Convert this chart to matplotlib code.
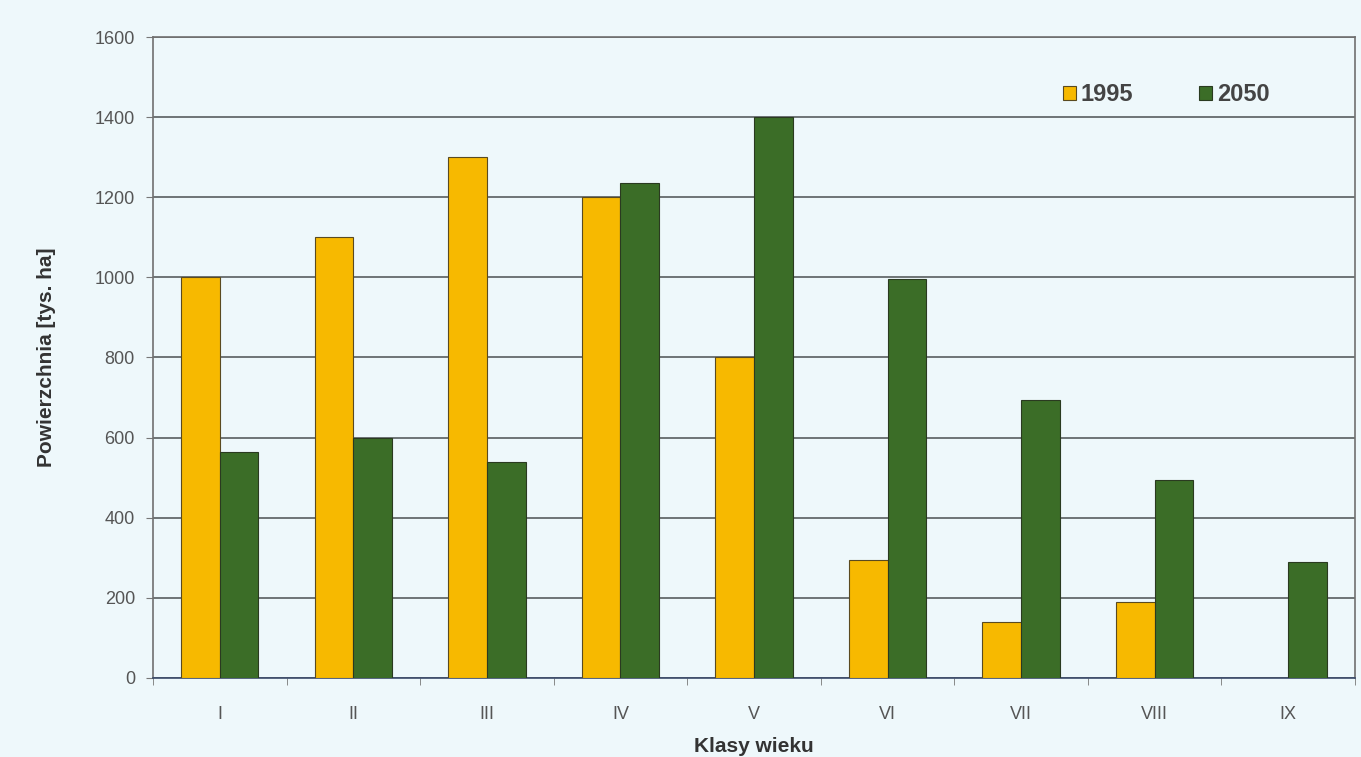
import matplotlib.pyplot as plt
import numpy as np

plt.rcParams['font.family'] = ['Liberation Sans', 'DejaVu Sans']

# age classes and area [thousand ha]
klasy = ['I', 'II', 'III', 'IV', 'V', 'VI', 'VII', 'VIII', 'IX']
y1995 = [1000, 1100, 1300, 1200, 800, 295, 140, 190, 0]
y2050 = [565, 600, 540, 1235, 1400, 995, 695, 495, 290]

bg = '#eef8fb'
c1995 = '#f7b900'
c2050 = '#3b6d27'

fig = plt.figure(figsize=(13.61, 7.57), dpi=100, facecolor=bg)
ax = fig.add_axes([0.1124, 0.1044, 0.8832, 0.8467], facecolor=bg)

x = np.arange(len(klasy))
w = 0.29
ax.bar(x - w / 2, y1995, w, color=c1995, edgecolor='#5a4a20', linewidth=0.8,
       label='1995', zorder=3)
ax.bar(x + w / 2, y2050, w, color=c2050, edgecolor='#2a3a20', linewidth=0.8,
       label='2050', zorder=3)

ax.set_xlim(-0.5, len(klasy) - 0.5)
ax.set_ylim(0, 1600)
ax.set_yticks(range(0, 1601, 200))
ax.yaxis.grid(True, color='#6e7476', linewidth=1.4, zorder=0)

# category labels centred, ticks between categories
ax.set_xticks(x)
ax.set_xticklabels(klasy)
ax.set_xticks(np.arange(-0.5, len(klasy)), minor=True)
ax.tick_params(axis='x', which='major', length=0, pad=20, labelsize=13,
               labelcolor='#555555')
ax.tick_params(axis='x', which='minor', length=5, color='#777777')
ax.tick_params(axis='y', length=5, color='#777777', labelsize=13,
               labelcolor='#555555', pad=8)

for s in ['top', 'right', 'left', 'bottom']:
    ax.spines[s].set_color('#707070')
    ax.spines[s].set_linewidth(1.2)
ax.spines['bottom'].set_color('#3a4a6a')

ax.set_ylabel('Powierzchnia [tys. ha]', fontsize=15, fontweight='bold',
              color='#333333', labelpad=28)
ax.set_xlabel('Klasy wieku', fontsize=15, fontweight='bold', color='#333333',
              labelpad=10)

leg = ax.legend(loc='center', bbox_to_anchor=(0.843, 0.91), ncol=2,
                frameon=False, fontsize=17, handlelength=0.55, handleheight=0.55,
                handletextpad=0.2, columnspacing=2.8)
for t in leg.get_texts():
    t.set_fontweight('bold')
    t.set_color('#444444')

plt.savefig('out.png', dpi=100, facecolor=bg)
